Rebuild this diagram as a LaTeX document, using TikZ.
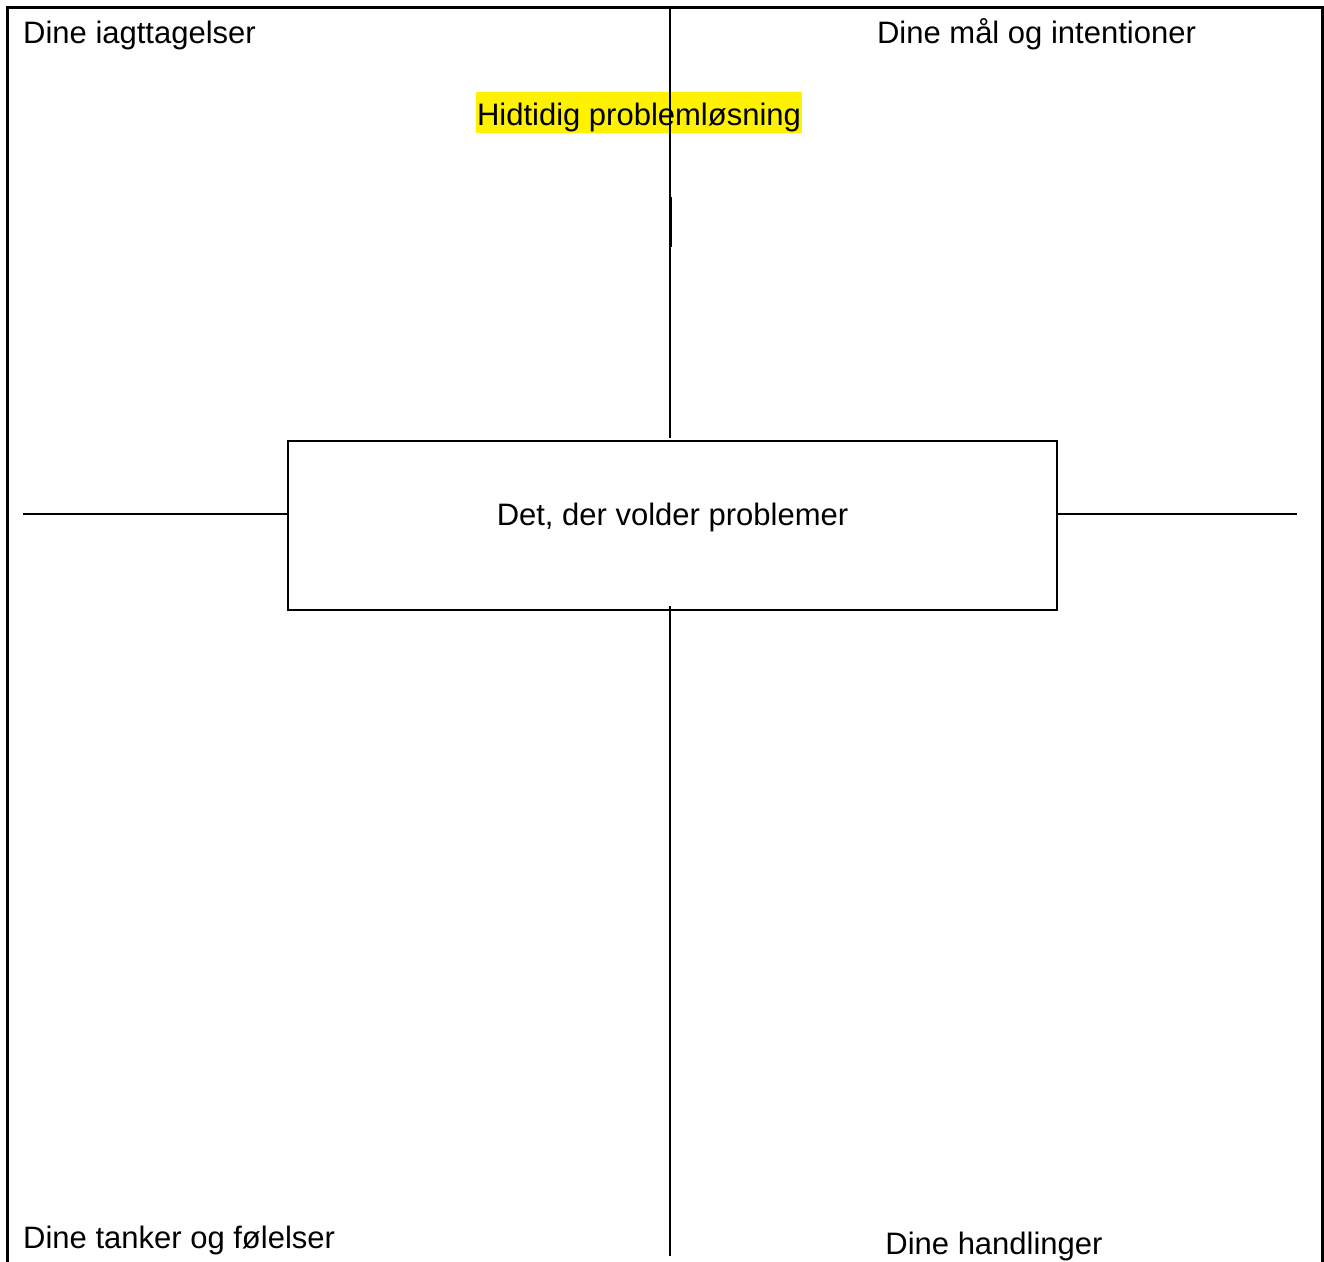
\documentclass[tikz,border=0pt]{standalone}
\usepackage{fontspec}
\setmainfont{Liberation Sans}
\begin{document}
\begin{tikzpicture}[x=1pt,y=-1pt,
  frame/.style={line width=3pt,black},
  rule/.style={line width=2.2pt,black},
  lbl/.style={inner sep=0pt,font=\fontsize{31}{34}\selectfont},
  hl/.style={fill=yellow,inner xsep=1.5pt,inner ysep=2pt,text height=31pt,text depth=6pt,font=\fontsize{31}{34}\selectfont},
  mainbox/.style={draw,line width=2.5pt,minimum width=769pt,minimum height=169pt,inner sep=0pt}]
\useasboundingbox (0,0) rectangle (1324,1261);
\fill[white] (0,0) rectangle (1324,1261);
% outer frame
\coordinate (fbl) at (7,1262);
\coordinate (ftl) at (7,7);
\coordinate (ftr) at (1322,7);
\coordinate (fbr) at (1322,1262);
\draw[frame] (fbl) -- (ftl) -- (ftr) -- (fbr);
% highlighted heading (below the line)
\node[hl,anchor=base] (hidtidig) at (639,125) {Hidtidig problemløsning};
% central box
\node[mainbox] (box) at (672.5,525.5) {};
\node[lbl,anchor=base] (boxtext) at (672.5,525) {Det, der volder problemer};
% cross lines
\coordinate (vtop) at (670,7);
\coordinate (vtopend) at (670,438);
\coordinate (vbotstart) at (670,606);
\coordinate (vbot) at (670,1256);
\coordinate (hleft) at (23,514);
\coordinate (hright) at (1297,514);
\draw[rule] (vtop) -- (vtopend);
\draw[rule] (vbotstart) -- (vbot);
\coordinate (thka) at (670,197);
\coordinate (thkb) at (670,247);
\draw[line width=3pt] (thka) -- (thkb);
\draw[rule] (hleft) -- (hleft -| box.west);
\draw[rule] (hright -| box.east) -- (hright);
% corner labels
\node[lbl,anchor=base west] (obs) at (23,43) {Dine iagttagelser};
\node[lbl,anchor=base] (goals) at (1036.5,43) {Dine mål og intentioner};
\node[lbl,anchor=base west] (thoughts) at (23,1248) {Dine tanker og følelser};
\node[lbl,anchor=base] (actions) at (994,1254) {Dine handlinger};
\end{tikzpicture}
\end{document}
